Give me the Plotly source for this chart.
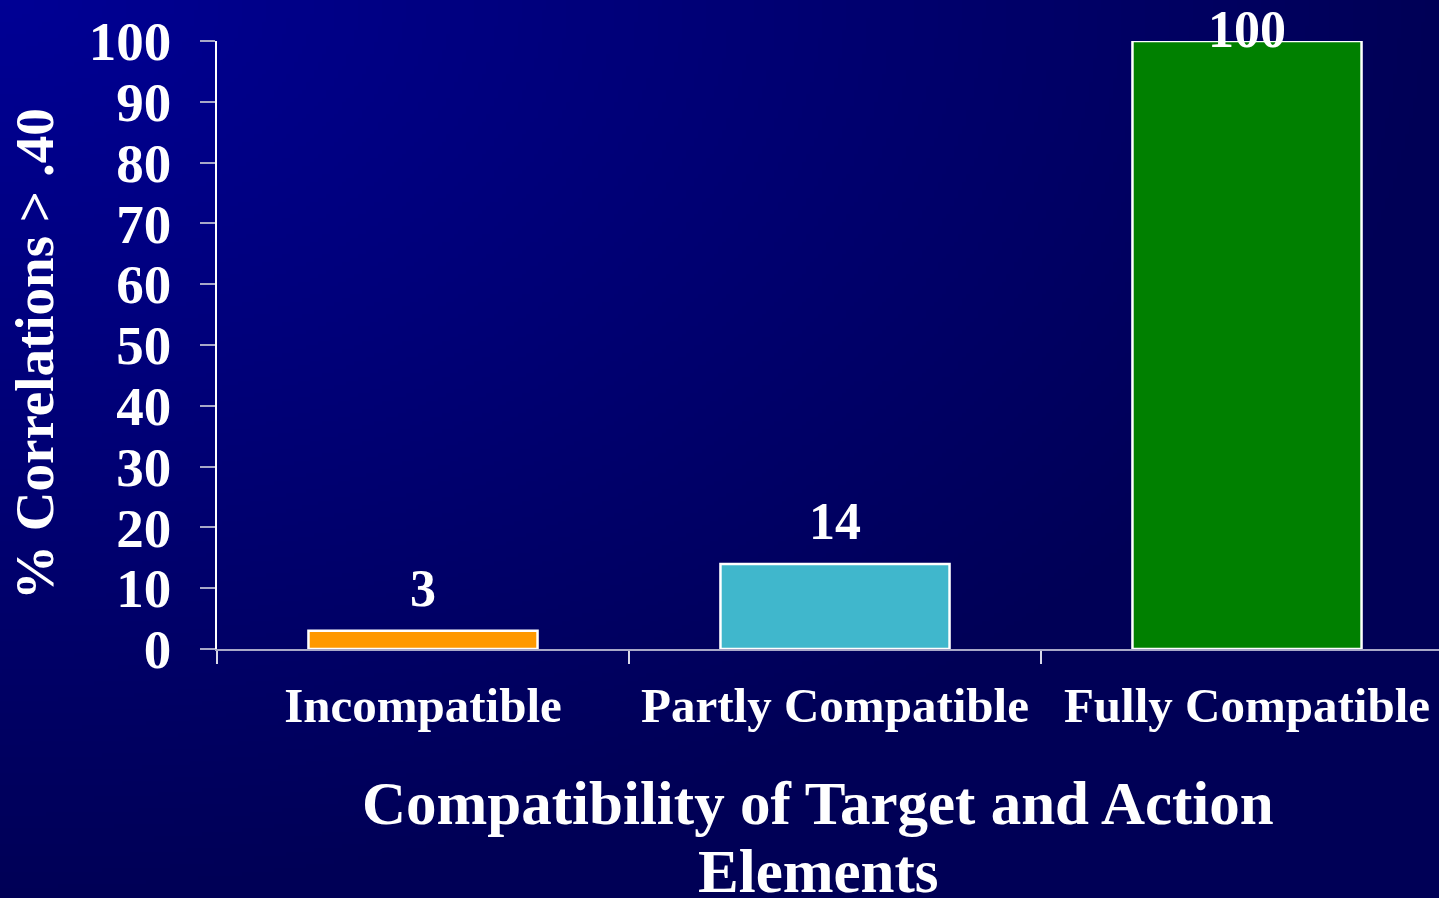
import base64
import struct
import zlib

import numpy as np
import plotly.graph_objects as go

# Chart data
categories = ["Incompatible", "Partly Compatible", "Fully Compatible"]
values = [3, 14, 100]
bar_colors = ["#FF9900", "#40B7CC", "#008000"]
y_ticks = [0, 10, 20, 30, 40, 50, 60, 70, 80, 90, 100]

x_title_lines = ["Compatibility of Target and Action", "Elements"]
y_title = "% Correlations > .40"

# Figure geometry (pixels)
W, H = 1439, 898
M_L, M_R, M_T, M_B = 217, 0, 41, 249
PLOT_W = W - M_L - M_R
PLOT_H = H - M_T - M_B
CAT_PX = 412  # width of one category slot
PX_PER_UNIT = PLOT_H / 100.0

FONT = "Liberation Serif, Times New Roman, serif"
WHITE = "#FFFFFF"


def px_x(px):
    return (px - M_L) / PLOT_W


def px_y(py):
    return (H - M_B - py) / PLOT_H


def gradient_png(w, h, c0, c1):
    """Diagonal blue wash fading out from the top-left corner."""
    yy, xx = np.mgrid[0:h, 0:w]
    t = np.clip(np.sqrt((xx / (w - 1)) ** 2 + (yy / (h - 1)) ** 2), 0, 1)
    c0 = np.array(c0, dtype=float)
    c1 = np.array(c1, dtype=float)
    rgb = (c0[None, None, :] + (c1 - c0)[None, None, :] * t[..., None]).round().astype(np.uint8)
    raw = b"".join(b"\x00" + rgb[r].tobytes() for r in range(h))

    def chunk(tag, data):
        c = struct.pack(">I", len(data)) + tag + data
        return c + struct.pack(">I", zlib.crc32(tag + data) & 0xFFFFFFFF)

    png = b"\x89PNG\r\n\x1a\n"
    png += chunk(b"IHDR", struct.pack(">IIBBBBB", w, h, 8, 2, 0, 0, 0))
    png += chunk(b"IDAT", zlib.compress(raw, 9))
    png += chunk(b"IEND", b"")
    return "data:image/png;base64," + base64.b64encode(png).decode()


bg = gradient_png(360, 225, (0, 0, 148), (0, 0, 86))

fig = go.Figure()
fig.add_trace(
    go.Bar(
        x=categories,
        y=values,
        width=0.556,
        marker=dict(color=bar_colors, line=dict(color=WHITE, width=2.5)),
        hoverinfo="skip",
    )
)

# Value labels above each bar; the offset shrinks so the label stays
# within the top edge of the figure
LABEL_GAP_PX = 42
TOP_LIMIT_PX = 29  # label centre may not rise above this many px from the top
for cat, v in zip(categories, values):
    bar_top_px = M_T + (100 - v) * PX_PER_UNIT
    shift = min(LABEL_GAP_PX, bar_top_px - TOP_LIMIT_PX)
    fig.add_annotation(
        x=cat, y=v, xref="x", yref="y", yshift=shift,
        text=str(v), showarrow=False, yanchor="middle",
        font=dict(family=FONT, size=52, color=WHITE, weight="bold"),
    )

# Axis titles
fig.add_annotation(
    x=px_x(34), y=px_y(354), xref="paper", yref="paper",
    text=y_title, textangle=-90, showarrow=False,
    xanchor="center", yanchor="middle",
    font=dict(family=FONT, size=55, color=WHITE, weight="bold"),
)
for line, cy in zip(x_title_lines, [803, 871]):
    fig.add_annotation(
        x=px_x(818), y=px_y(cy), xref="paper", yref="paper",
        text=line, showarrow=False, xanchor="center", yanchor="middle",
        font=dict(family=FONT, size=61, color=WHITE, weight="bold"),
    )

fig.update_layout(
    width=W, height=H,
    margin=dict(l=M_L, r=M_R, t=M_T, b=M_B, pad=0),
    paper_bgcolor="#000058",
    plot_bgcolor="rgba(0,0,0,0)",
    showlegend=False,
    images=[dict(
        source=bg, xref="paper", yref="paper",
        x=px_x(0), y=px_y(0), sizex=W / PLOT_W, sizey=H / PLOT_H,
        xanchor="left", yanchor="top", sizing="stretch", layer="below",
    )],
)

fig.update_xaxes(
    type="category",
    range=[-0.5, -0.5 + PLOT_W / CAT_PX],
    tickson="boundaries",
    ticks="outside", ticklen=13, tickwidth=1.5, tickcolor="#D8D8E8",
    showline=True, linecolor="#A8A8C8", linewidth=2,
    showgrid=False, zeroline=False,
    tickfont=dict(family=FONT, size=49, color=WHITE, weight="bold"),
    ticklabelstandoff=12,
    fixedrange=True,
)
fig.update_yaxes(
    range=[0, 100],
    tickmode="array", tickvals=y_ticks, ticktext=[str(t) for t in y_ticks],
    ticks="outside", ticklen=15, tickwidth=2, tickcolor="#A8A8C8",
    showline=True, linecolor=WHITE, linewidth=1.5,
    showgrid=False, zeroline=False,
    tickfont=dict(family=FONT, size=55, color=WHITE, weight="bold"),
    ticklabelstandoff=18,
    fixedrange=True,
)

fig.write_html("out.html", config={"displayModeBar": False})
